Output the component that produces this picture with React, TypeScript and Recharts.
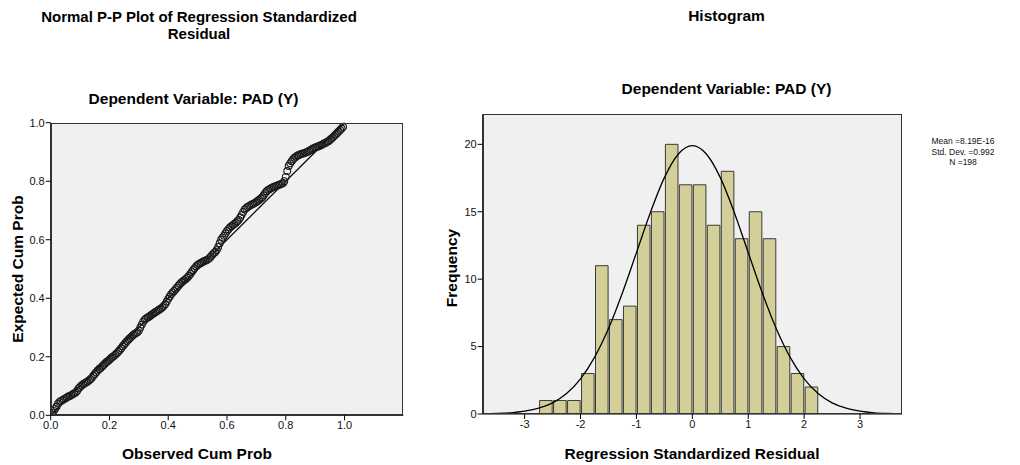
import React from "react";
import {
  ScatterChart,
  Scatter,
  ComposedChart,
  Bar,
  Line,
  XAxis,
  YAxis,
  CartesianGrid,
  ReferenceLine,
} from "recharts";

// P-P plot: [observed cum prob, expected cum prob]
const ppPoints: [number, number][] = [
  [0.0, 0.003], [0.005, 0.008], [0.01, 0.015], [0.015, 0.022], [0.02, 0.03],
  [0.025, 0.04], [0.03, 0.046], [0.035, 0.049], [0.04, 0.052], [0.045, 0.055],
  [0.05, 0.058], [0.055, 0.061], [0.06, 0.064], [0.065, 0.066], [0.07, 0.069],
  [0.075, 0.072], [0.08, 0.075], [0.085, 0.078], [0.09, 0.084], [0.095, 0.092],
  [0.1, 0.097], [0.105, 0.102], [0.11, 0.106], [0.115, 0.109], [0.12, 0.112],
  [0.125, 0.115], [0.13, 0.119], [0.135, 0.123], [0.14, 0.128], [0.145, 0.135],
  [0.15, 0.141], [0.155, 0.147], [0.16, 0.153], [0.165, 0.158], [0.17, 0.162],
  [0.175, 0.167], [0.18, 0.172], [0.185, 0.177], [0.19, 0.182], [0.195, 0.186],
  [0.2, 0.19], [0.205, 0.195], [0.21, 0.199], [0.215, 0.203], [0.22, 0.207],
  [0.225, 0.212], [0.23, 0.217], [0.235, 0.223], [0.24, 0.229], [0.245, 0.236],
  [0.25, 0.242], [0.255, 0.248], [0.26, 0.254], [0.265, 0.259], [0.27, 0.264],
  [0.275, 0.269], [0.28, 0.274], [0.285, 0.278], [0.29, 0.281], [0.295, 0.284],
  [0.3, 0.29], [0.305, 0.3], [0.31, 0.31], [0.315, 0.32], [0.32, 0.327],
  [0.325, 0.331], [0.33, 0.334], [0.335, 0.337], [0.34, 0.341], [0.345, 0.345],
  [0.35, 0.348], [0.355, 0.352], [0.36, 0.355], [0.365, 0.358], [0.37, 0.362],
  [0.375, 0.365], [0.38, 0.369], [0.385, 0.374], [0.39, 0.38], [0.395, 0.389],
  [0.4, 0.398], [0.405, 0.406], [0.41, 0.414], [0.415, 0.42], [0.42, 0.425],
  [0.425, 0.431], [0.43, 0.437], [0.435, 0.443], [0.44, 0.449], [0.445, 0.454],
  [0.45, 0.458], [0.455, 0.462], [0.46, 0.466], [0.465, 0.471], [0.47, 0.476],
  [0.475, 0.483], [0.48, 0.49], [0.485, 0.497], [0.49, 0.503], [0.495, 0.509],
  [0.5, 0.514], [0.505, 0.517], [0.51, 0.52], [0.515, 0.523], [0.52, 0.526],
  [0.525, 0.528], [0.53, 0.53], [0.535, 0.533], [0.54, 0.537], [0.545, 0.543],
  [0.55, 0.549], [0.555, 0.554], [0.56, 0.558], [0.565, 0.565], [0.57, 0.575],
  [0.575, 0.588], [0.58, 0.6], [0.585, 0.607], [0.59, 0.614], [0.595, 0.622],
  [0.6, 0.63], [0.605, 0.636], [0.61, 0.642], [0.615, 0.646], [0.62, 0.65],
  [0.625, 0.654], [0.63, 0.658], [0.635, 0.663], [0.64, 0.668], [0.645, 0.676],
  [0.65, 0.685], [0.655, 0.695], [0.66, 0.703], [0.665, 0.708], [0.67, 0.712],
  [0.675, 0.715], [0.68, 0.718], [0.685, 0.721], [0.69, 0.723], [0.695, 0.726],
  [0.7, 0.729], [0.705, 0.733], [0.71, 0.737], [0.715, 0.741], [0.72, 0.745],
  [0.725, 0.752], [0.73, 0.76], [0.735, 0.766], [0.74, 0.77], [0.745, 0.773],
  [0.75, 0.776], [0.755, 0.779], [0.76, 0.781], [0.765, 0.783], [0.77, 0.785],
  [0.775, 0.787], [0.78, 0.789], [0.785, 0.791], [0.79, 0.793], [0.795, 0.8],
  [0.8, 0.815], [0.805, 0.835], [0.81, 0.852], [0.815, 0.861], [0.82, 0.868],
  [0.825, 0.875], [0.83, 0.88], [0.835, 0.884], [0.84, 0.888], [0.845, 0.89],
  [0.85, 0.892], [0.855, 0.894], [0.86, 0.895], [0.865, 0.897], [0.87, 0.899],
  [0.875, 0.901], [0.88, 0.904], [0.885, 0.907], [0.89, 0.91], [0.895, 0.913],
  [0.9, 0.915], [0.905, 0.917], [0.91, 0.919], [0.915, 0.921], [0.92, 0.923],
  [0.925, 0.926], [0.93, 0.929], [0.935, 0.931], [0.94, 0.934], [0.945, 0.937],
  [0.95, 0.941], [0.955, 0.945], [0.96, 0.95], [0.965, 0.955], [0.97, 0.96],
  [0.975, 0.965], [0.98, 0.97], [0.985, 0.975], [0.99, 0.98], [0.995, 0.986],
];
const ppTicks = [0, 0.2, 0.4, 0.6, 0.8, 1.0];

// histogram bins (width 0.25)
const binStarts = [
  -2.75, -2.5, -2.25, -2, -1.75, -1.5, -1.25, -1, -0.75, -0.5,
  -0.25, 0, 0.25, 0.5, 0.75, 1, 1.25, 1.5, 1.75, 2,
];
const frequencies = [1, 1, 1, 3, 11, 7, 8, 14, 15, 20, 17, 17, 14, 18, 13, 15, 13, 5, 3, 2];
const binWidth = 0.25;

// normal curve
const curveX = [
  -3.75, -3.5, -3.25, -3, -2.75, -2.5, -2.25, -2, -1.75, -1.5, -1.25, -1, -0.75, -0.5, -0.25,
  0, 0.25, 0.5, 0.75, 1, 1.25, 1.5, 1.75, 2, 2.25, 2.5, 2.75, 3, 3.25, 3.5, 3.75,
];
const curveY = [
  0.02, 0.04, 0.09, 0.21, 0.43, 0.83, 1.52, 2.61, 4.2, 6.34, 9.0, 11.97, 14.95, 17.53, 19.28,
  19.9, 19.28, 17.53, 14.95, 11.97, 9.0, 6.34, 4.2, 2.61, 1.52, 0.83, 0.43, 0.21, 0.09, 0.04, 0.02,
];
const histXTicks = [-3, -2, -1, 0, 1, 2, 3];
const histYTicks = [0, 5, 10, 15, 20];

const legendLines = ["Mean =8.19E-16", "Std. Dev. =0.992", "N =198"];

const FONT = "'Liberation Sans', Arial, sans-serif";
const tickStyle = { fontFamily: FONT, fontSize: 11, fill: "#111" };

// plot rectangles (page pixels)
const L = { left: 50.7, top: 122.7, right: 403.3, bottom: 415.3 };
const R = { left: 482.7, top: 114, right: 902, bottom: 414 };
const R_CHART_X = 430;
const R_CHART_W = 490;
const histDomain: [number, number] = [-3.75, 3.75];

const ppData = ppPoints.map(([obs, exp]) => ({ obs, exp }));
const histData = binStarts.map((s, i) => ({ x: s + binWidth / 2, freq: frequencies[i] }));
const curveData = curveX.map((x, i) => ({ x, y: curveY[i] }));

const barPx =
  (binWidth * (R.right - R.left)) / (histDomain[1] - histDomain[0]);

const Circle = (props: any) => (
  <circle cx={props.cx} cy={props.cy} r={3.4} fill="none" stroke="#1a1a1a" strokeWidth={1.1} />
);

const frame = (r: typeof L) => (
  <div
    style={{
      position: "absolute",
      left: r.left,
      top: r.top,
      width: r.right - r.left,
      height: r.bottom - r.top,
      border: "1px solid #333",
      boxSizing: "border-box",
      pointerEvents: "none",
    }}
  />
);

export default function App() {
  return (
    <div style={{ position: "absolute", left: 0, top: 0, width: 1020, height: 465, background: "#fff" }}>
      <div style={{ position: "absolute", left: 0, top: 0 }}>
        <ScatterChart
          width={420}
          height={465}
          margin={{ top: L.top, right: 420 - L.right, left: 0, bottom: 0 }}
        >
          <CartesianGrid fill="#f0f0f0" horizontal={false} vertical={false} />
          <XAxis
            type="number"
            dataKey="obs"
            domain={[0, 1.2]}
            ticks={ppTicks}
            tickFormatter={(v: number) => v.toFixed(1)}
            height={465 - L.bottom}
            tick={tickStyle}
            tickSize={5}
            tickMargin={1}
            stroke="#000"
            allowDataOverflow
          />
          <YAxis
            type="number"
            dataKey="exp"
            domain={[0, 1]}
            ticks={ppTicks}
            tickFormatter={(v: number) => v.toFixed(1)}
            width={L.left}
            tick={tickStyle}
            tickSize={5}
            tickMargin={1}
            stroke="#000"
            allowDataOverflow
          />
          <ReferenceLine
            segment={[{ x: 0, y: 0 }, { x: 1, y: 1 }]}
            stroke="#000"
            strokeWidth={1.2}
          />
          <Scatter data={ppData} shape={Circle} isAnimationActive={false} />
        </ScatterChart>
      </div>

      <div style={{ position: "absolute", left: R_CHART_X, top: 0 }}>
        <ComposedChart
          width={R_CHART_W}
          height={465}
          data={histData}
          margin={{ top: R.top, right: R_CHART_X + R_CHART_W - R.right, left: 0, bottom: 0 }}
        >
          <CartesianGrid fill="#f0f0f0" horizontal={false} vertical={false} />
          <XAxis
            type="number"
            dataKey="x"
            domain={histDomain}
            ticks={histXTicks}
            height={465 - R.bottom}
            tick={tickStyle}
            tickSize={5}
            tickMargin={1}
            stroke="#000"
            allowDataOverflow
          />
          <XAxis
            xAxisId="curve"
            type="number"
            dataKey="x"
            domain={histDomain}
            hide
            allowDataOverflow
          />
          <YAxis
            type="number"
            domain={[0, 22.25]}
            ticks={histYTicks}
            width={R.left - R_CHART_X}
            tick={tickStyle}
            tickSize={5}
            tickMargin={1}
            stroke="#000"
            allowDataOverflow
          />
          <Bar
            dataKey="freq"
            fill="#d4cf98"
            stroke="#3a3a3a"
            strokeWidth={1}
            barSize={barPx}
            isAnimationActive={false}
          />
          <Line
            xAxisId="curve"
            data={curveData}
            dataKey="y"
            type="monotone"
            stroke="#000"
            strokeWidth={1.3}
            dot={false}
            activeDot={false}
            isAnimationActive={false}
          />
        </ComposedChart>
      </div>

      {frame(L)}
      {frame(R)}

      <svg
        width={1020}
        height={465}
        style={{ position: "absolute", left: 0, top: 0, pointerEvents: "none" }}
        fontFamily={FONT}
      >
        <g fontWeight="bold" fontSize={15} fill="#000" textAnchor="middle">
          <text x={199} y={21.5}>Normal P-P Plot of Regression Standardized</text>
          <text x={199} y={38.5}>Residual</text>
        </g>
        <g fontWeight="bold" fontSize={15.5} fill="#000" textAnchor="middle">
          <text x={193.5} y={103.5}>Dependent Variable: PAD (Y)</text>
          <text x={726.5} y={21}>Histogram</text>
          <text x={726.5} y={94}>Dependent Variable: PAD (Y)</text>
          <text x={197} y={458.5}>Observed Cum Prob</text>
          <text x={692} y={458.5}>Regression Standardized Residual</text>
          <text transform="translate(22.5,269) rotate(-90)">Expected Cum Prob</text>
          <text transform="translate(456.5,268) rotate(-90)">Frequency</text>
        </g>
        <g fontSize={8.5} fill="#111" textAnchor="middle">
          {legendLines.map((t, i) => (
            <text key={t} x={963} y={144 + i * 10.5}>
              {t}
            </text>
          ))}
        </g>
      </svg>
    </div>
  );
}
